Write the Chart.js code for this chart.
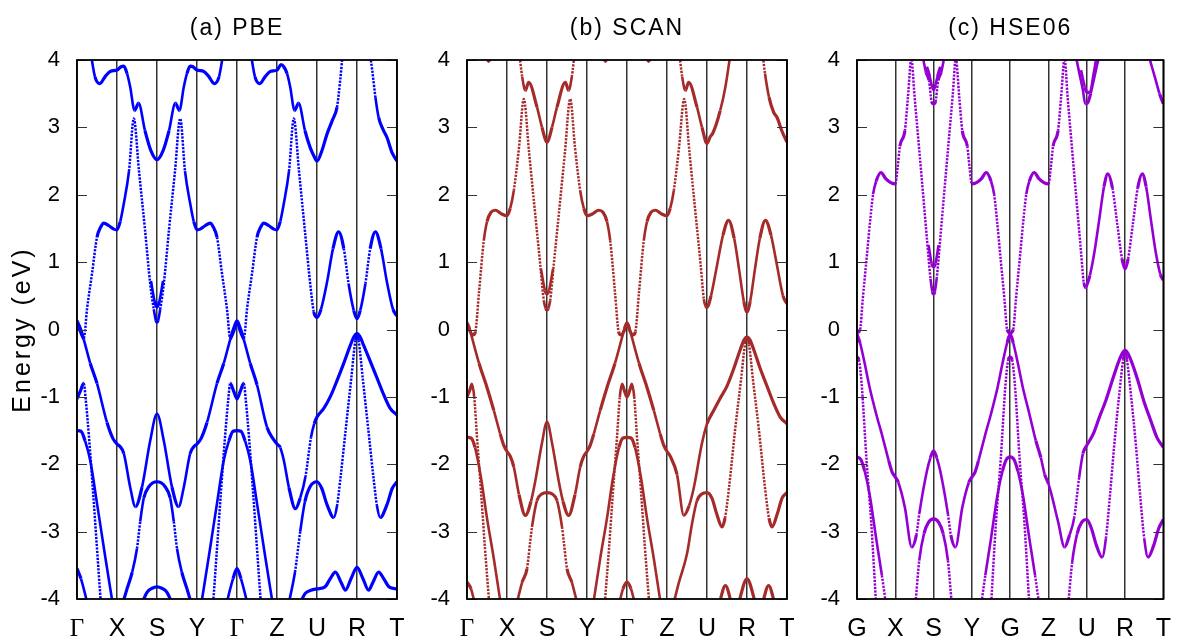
<!DOCTYPE html>
<html>
<head>
<meta charset="utf-8">
<script src="https://cdn.jsdelivr.net/npm/chart.js@4.4.0/dist/chart.umd.min.js"></script>
<style>
  body { margin: 0; background: #fff; }
  #wrap { position: relative; width: 1186px; height: 640px; }
  #wrap canvas { position: absolute; left: 0; top: 0; }
</style>
</head>
<body>
<div id="wrap">
  <canvas id="pbe" width="1186" height="640"></canvas>
  <canvas id="scan" width="1186" height="640"></canvas>
  <canvas id="hse" width="1186" height="640"></canvas>
</div>
<script>
// k-path labels (k = 0..8, one unit per segment)
var kLabelsGamma = ['Γ', 'X', 'S', 'Y', 'Γ', 'Z', 'U', 'R', 'T'];
var kLabelsG = ['G', 'X', 'S', 'Y', 'G', 'Z', 'U', 'R', 'T'];
var energyTicks = [-4, -3, -2, -1, 0, 1, 2, 3, 4];

// ---- PBE bands, [k, E(eV)] ----
var pbeC1 = [[0,0.12],[0.08,-0.02],[0.17,-0.13],[0.25,0.3],[0.38,0.85],[0.5,1.37],[0.6,1.53],[0.67,1.58],[0.8,1.54],[0.92,1.49],[1,1.48],
  [1.08,1.6],[1.17,1.87],[1.3,2.35],[1.42,3.13],[1.55,2.35],[1.7,1.48],[1.83,0.68],[1.92,0.3],[1.97,0.14],[2,0.11],
  [2.03,0.14],[2.08,0.3],[2.17,0.68],[2.3,1.48],[2.45,2.35],[2.58,3.13],[2.7,2.35],[2.83,1.87],[2.92,1.6],[3,1.48],
  [3.08,1.49],[3.2,1.54],[3.33,1.58],[3.4,1.53],[3.5,1.37],[3.62,0.85],[3.75,0.3],[3.83,-0.13],[3.92,-0.02],[4,0.12],
  [4.08,-0.02],[4.17,-0.13],[4.25,0.3],[4.38,0.85],[4.5,1.37],[4.6,1.53],[4.67,1.58],[4.8,1.54],[4.92,1.49],[5,1.48],
  [5.08,1.6],[5.17,1.87],[5.3,2.35],[5.42,3.13],[5.55,2.35],[5.7,1.45],[5.83,0.68],[5.92,0.26],[6,0.18],
  [6.1,0.3],[6.25,0.7],[6.4,1.2],[6.54,1.45],[6.67,1.2],[6.79,0.68],[6.92,0.28],[7,0.16],
  [7.08,0.28],[7.21,0.68],[7.33,1.2],[7.46,1.45],[7.6,1.2],[7.75,0.7],[7.9,0.3],[8,0.2]];
var pbeS1 = [[1.85,0.72],[1.94,0.42],[2,0.33],[2.06,0.42],[2.15,0.72]];
var pbeU1 = [[0.33,4.15],[0.45,3.75],[0.57,3.65],[0.7,3.75],[0.83,3.83],[1,3.85],[1.1,3.9],[1.17,3.91],[1.25,3.8],[1.33,3.6],[1.44,3.25],[1.54,3.36],
  [1.7,2.95],[1.85,2.65],[2,2.52],[2.15,2.65],[2.3,2.95],[2.46,3.36],[2.56,3.25],[2.67,3.6],[2.75,3.8],[2.83,3.91],[2.9,3.9],[3,3.85],
  [3.17,3.83],[3.3,3.75],[3.43,3.65],[3.55,3.75],[3.67,4.15]];
var pbeU2 = [[4.33,4.15],[4.45,3.75],[4.57,3.65],[4.7,3.75],[4.83,3.83],[5,3.85],[5.1,3.93],[5.17,3.9],[5.25,3.8],[5.33,3.6],[5.44,3.25],[5.54,3.36],
  [5.7,2.95],[5.83,2.7],[5.92,2.58],[6,2.5],[6.12,2.65],[6.25,2.9],[6.38,3.1],[6.5,3.3],[6.58,3.7],[6.65,4.15]];
var pbeU3 = [[7.3,4.2],[7.38,3.85],[7.46,3.45],[7.54,3.15],[7.65,2.97],[7.75,2.85],[7.88,2.62],[8,2.5]];
var pbeV1 = [[0,0.13],[0.08,0.02],[0.17,-0.15],[0.33,-0.5],[0.5,-0.8],[0.75,-1.38],[0.9,-1.62],[1,-1.7],
  [1.08,-1.74],[1.17,-1.84],[1.33,-2.34],[1.46,-2.63],[1.625,-2.34],[1.83,-1.65],[2,-1.25],
  [2.17,-1.65],[2.375,-2.34],[2.54,-2.63],[2.67,-2.34],[2.83,-1.84],[2.92,-1.74],[3,-1.7],
  [3.1,-1.62],[3.25,-1.38],[3.5,-0.8],[3.67,-0.5],[3.83,-0.15],[3.92,0.02],[4,0.13],
  [4.08,0.02],[4.17,-0.15],[4.33,-0.5],[4.5,-0.82],[4.75,-1.45],[4.9,-1.62],[5,-1.7],
  [5.08,-1.75],[5.17,-1.94],[5.3,-2.35],[5.46,-2.66],[5.58,-2.5],[5.71,-2.19],[5.85,-1.6],[5.93,-1.4],[6,-1.3],
  [6.17,-1.17],[6.33,-1.0],[6.5,-0.76],[6.67,-0.5],[6.83,-0.24],[6.93,-0.1],[7,-0.06],
  [7.07,-0.1],[7.17,-0.24],[7.33,-0.47],[7.5,-0.72],[7.67,-0.97],[7.83,-1.17],[8,-1.27]];
var pbeV2a = [[0,-1.03],[0.08,-0.92],[0.17,-0.8],[0.22,-1.05],[0.3,-1.6],[0.4,-2.4],[0.5,-3.25],[0.6,-4.1]];
var pbeV2b = [[3.4,-4.1],[3.5,-3.25],[3.6,-2.4],[3.7,-1.6],[3.78,-1.05],[3.83,-0.8],[3.92,-0.92],[4,-1.03],
  [4.08,-0.92],[4.17,-0.8],[4.22,-1.05],[4.3,-1.6],[4.4,-2.4],[4.5,-3.25],[4.6,-4.1]];
var pbeV3a = [[0,-1.5],[0.1,-1.51],[0.2,-1.65],[0.33,-1.94],[0.5,-2.58],[0.7,-3.35],[0.9,-4.1]];
var pbeV3b = [[3.1,-4.1],[3.3,-3.35],[3.5,-2.58],[3.67,-1.94],[3.8,-1.65],[3.9,-1.51],[4,-1.5],
  [4.1,-1.51],[4.2,-1.65],[4.33,-1.94],[4.5,-2.58],[4.7,-3.35],[4.9,-4.1]];
var pbeV4a = [[0,-3.55],[0.1,-3.7],[0.2,-3.92],[0.27,-4.1]];
var pbeV4b = [[3.73,-4.1],[3.8,-3.92],[3.9,-3.7],[4,-3.55],[4.1,-3.7],[4.2,-3.92],[4.27,-4.1]];
var pbeV5a = [[1.15,-4.05],[1.25,-3.85],[1.38,-3.6],[1.5,-3.25],[1.58,-2.85],[1.67,-2.5],[1.8,-2.33],[2,-2.26],
  [2.2,-2.33],[2.33,-2.5],[2.42,-2.85],[2.5,-3.25],[2.62,-3.6],[2.75,-3.85],[2.85,-4.05]];
var pbeV5b = [[5.3,-4.05],[5.45,-3.6],[5.58,-3.0],[5.7,-2.55],[5.83,-2.33],[6,-2.26],[6.12,-2.36],[6.25,-2.6],[6.42,-2.79],[6.5,-2.62],
  [6.58,-2.24],[6.72,-1.47],[6.85,-0.76],[6.96,-0.16],[7,-0.06],[7.04,-0.16],[7.15,-0.76],[7.28,-1.47],[7.42,-2.24],
  [7.5,-2.62],[7.58,-2.79],[7.75,-2.6],[7.88,-2.36],[8,-2.26]];
var pbeV6a = [[1.6,-4.1],[1.75,-3.9],[1.88,-3.84],[2,-3.82],[2.12,-3.84],[2.25,-3.9],[2.4,-4.1]];
var pbeV6b = [[5.55,-4.1],[5.7,-3.92],[5.85,-3.87],[6,-3.85],[6.2,-3.82],[6.33,-3.7],[6.46,-3.6],[6.6,-3.75],[6.71,-3.87],
  [6.85,-3.7],[7,-3.53],[7.15,-3.7],[7.29,-3.87],[7.4,-3.75],[7.54,-3.6],[7.67,-3.7],[7.8,-3.82],[8,-3.85]];

// ---- SCAN bands ----
var scanC1 = [[0,0.09],[0.07,-0.02],[0.15,-0.08],[0.21,-0.03],[0.3,0.55],[0.42,1.32],[0.5,1.6],[0.6,1.74],[0.71,1.77],[0.85,1.72],[1,1.69],
  [1.08,1.8],[1.17,2.06],[1.3,2.7],[1.42,3.42],[1.55,2.64],[1.7,1.74],[1.83,0.97],[1.92,0.43],[1.97,0.31],[2,0.29],
  [2.03,0.31],[2.08,0.43],[2.17,0.97],[2.3,1.74],[2.45,2.64],[2.58,3.42],[2.7,2.7],[2.83,2.06],[2.92,1.8],[3,1.69],
  [3.15,1.72],[3.29,1.77],[3.4,1.74],[3.5,1.6],[3.58,1.32],[3.7,0.55],[3.79,-0.03],[3.85,-0.08],[3.93,-0.02],[4,0.09],
  [4.07,-0.02],[4.15,-0.08],[4.21,-0.03],[4.3,0.55],[4.42,1.32],[4.5,1.6],[4.6,1.74],[4.71,1.77],[4.85,1.72],[5,1.69],
  [5.08,1.8],[5.17,2.06],[5.3,2.7],[5.43,3.42],[5.56,2.64],[5.71,1.74],[5.84,0.97],[5.92,0.45],[5.97,0.34],[6,0.33],
  [6.1,0.5],[6.25,0.95],[6.4,1.4],[6.54,1.62],[6.68,1.35],[6.8,0.9],[6.92,0.42],[7,0.26],
  [7.08,0.42],[7.2,0.9],[7.32,1.35],[7.46,1.62],[7.6,1.4],[7.75,0.95],[7.9,0.5],[8,0.38]];
var scanS1 = [[1.85,0.9],[1.95,0.58],[2,0.53],[2.05,0.58],[2.15,0.9]];
var scanU1 = [[1.3,4.15],[1.38,3.75],[1.46,3.55],[1.54,3.67],[1.75,3.3],[1.875,3.0],[2,2.78],[2.125,3.0],[2.25,3.3],[2.46,3.67],[2.54,3.55],[2.62,3.75],[2.7,4.15]];
var scanU2 = [[5.3,4.15],[5.38,3.75],[5.46,3.55],[5.54,3.67],[5.75,3.3],[5.875,3.0],[6,2.76],[6.08,2.86],[6.15,2.92],[6.33,3.25],[6.46,3.6],[6.6,4.15]];
var scanU3 = [[7.38,4.15],[7.45,3.8],[7.55,3.45],[7.67,3.22],[7.75,3.15],[7.87,2.95],[8,2.78]];
var scanTopA = [[0.44,4.12],[0.54,3.98],[0.64,4.12]];
var scanTopB = [[3.36,4.12],[3.46,3.98],[3.56,4.12]];
var scanTopC = [[4.44,4.12],[4.54,3.98],[4.64,4.12]];
var scanV1 = [[0,0.1],[0.06,0.02],[0.12,-0.11],[0.3,-0.5],[0.5,-0.86],[0.67,-1.2],[0.83,-1.55],[0.92,-1.72],[1,-1.81],
  [1.08,-1.88],[1.17,-2.04],[1.3,-2.45],[1.46,-2.76],[1.6,-2.55],[1.71,-2.24],[1.87,-1.7],[2,-1.37],
  [2.13,-1.7],[2.29,-2.24],[2.4,-2.55],[2.54,-2.76],[2.7,-2.45],[2.83,-2.04],[2.92,-1.88],[3,-1.81],
  [3.08,-1.72],[3.17,-1.55],[3.33,-1.2],[3.5,-0.86],[3.7,-0.5],[3.88,-0.11],[3.94,0.02],[4,0.1],
  [4.06,0.02],[4.12,-0.11],[4.3,-0.5],[4.5,-0.86],[4.67,-1.2],[4.83,-1.55],[4.92,-1.72],[5,-1.81],
  [5.08,-1.88],[5.25,-2.15],[5.42,-2.76],[5.55,-2.62],[5.67,-2.35],[5.87,-1.7],[6,-1.4],
  [6.17,-1.2],[6.33,-1.02],[6.5,-0.84],[6.67,-0.58],[6.83,-0.3],[6.93,-0.15],[7,-0.11],
  [7.07,-0.15],[7.17,-0.3],[7.33,-0.58],[7.5,-0.84],[7.67,-1.1],[7.83,-1.3],[8,-1.4]];
var scanV2a = [[0,-1.0],[0.07,-0.9],[0.125,-0.81],[0.18,-1.0],[0.25,-1.6],[0.35,-2.4],[0.45,-3.25],[0.56,-4.1]];
var scanV2b = [[3.44,-4.1],[3.55,-3.25],[3.65,-2.4],[3.75,-1.6],[3.82,-1.0],[3.875,-0.81],[3.93,-0.9],[4,-1.0],
  [4.07,-0.9],[4.125,-0.81],[4.18,-1.0],[4.25,-1.6],[4.35,-2.4],[4.45,-3.25],[4.56,-4.1]];
var scanV3a = [[0,-1.6],[0.1,-1.61],[0.2,-1.75],[0.35,-2.2],[0.5,-2.8],[0.67,-3.4],[0.85,-4.1]];
var scanV3b = [[3.15,-4.1],[3.33,-3.4],[3.5,-2.8],[3.65,-2.2],[3.8,-1.75],[3.9,-1.61],[4,-1.6],
  [4.1,-1.61],[4.2,-1.75],[4.35,-2.2],[4.5,-2.8],[4.67,-3.4],[4.85,-4.1]];
var scanV4a = [[0,-3.75],[0.1,-3.85],[0.2,-4.08]];
var scanV4b = [[3.8,-4.08],[3.9,-3.85],[4,-3.75],[4.1,-3.85],[4.2,-4.08]];
var scanV5a = [[1.25,-4.05],[1.38,-3.75],[1.5,-3.55],[1.58,-3.15],[1.625,-2.93],[1.75,-2.54],[1.87,-2.44],[2,-2.42],
  [2.13,-2.44],[2.25,-2.54],[2.375,-2.93],[2.42,-3.15],[2.5,-3.55],[2.62,-3.75],[2.75,-4.05]];
var scanV5b = [[5.17,-4.05],[5.3,-3.75],[5.5,-3.33],[5.62,-2.9],[5.75,-2.54],[5.87,-2.44],[6,-2.42],[6.12,-2.5],[6.25,-2.75],[6.375,-2.93],
  [6.45,-2.8],[6.55,-2.35],[6.7,-1.5],[6.85,-0.75],[6.95,-0.22],[7,-0.11],[7.05,-0.22],[7.15,-0.75],[7.3,-1.5],[7.45,-2.35],
  [7.55,-2.8],[7.625,-2.93],[7.75,-2.75],[7.88,-2.5],[8,-2.42]];
var scanV6a = [[6.3,-4.08],[6.46,-3.8],[6.62,-4.08]];
var scanV6b = [[6.78,-4.08],[7,-3.7],[7.22,-4.08]];
var scanV6c = [[7.38,-4.08],[7.54,-3.8],[7.7,-4.08]];

// ---- HSE06 bands ----
var hseC1 = [[0,-0.05],[0.08,0.0],[0.15,0.45],[0.25,1.05],[0.35,1.65],[0.42,2.01],[0.5,2.2],[0.625,2.33],[0.75,2.24],[0.88,2.18],[1,2.16],
  [1.06,2.4],[1.12,2.72],[1.25,2.95],[1.33,3.45],[1.42,4.02],[1.5,3.48],[1.62,2.7],[1.75,1.85],[1.83,1.32],[1.92,0.75],[1.97,0.56],[2,0.53],
  [2.03,0.56],[2.08,0.75],[2.17,1.32],[2.25,1.85],[2.38,2.7],[2.5,3.48],[2.58,4.02],[2.67,3.45],[2.75,2.95],[2.88,2.72],[2.94,2.4],[3,2.16],
  [3.12,2.18],[3.25,2.24],[3.375,2.33],[3.5,2.2],[3.58,2.01],[3.65,1.65],[3.75,1.05],[3.85,0.45],[3.92,0.0],[4,-0.05],
  [4.08,0.0],[4.15,0.45],[4.25,1.05],[4.35,1.65],[4.42,2.01],[4.5,2.2],[4.625,2.33],[4.75,2.24],[4.88,2.18],[5,2.16],
  [5.06,2.4],[5.12,2.72],[5.25,2.95],[5.33,3.45],[5.42,4.02],[5.5,3.45],[5.62,2.65],[5.75,1.8],[5.85,1.15],[5.92,0.7],[5.96,0.62],[6,0.66],
  [6.08,0.8],[6.2,1.15],[6.33,1.65],[6.45,2.12],[6.55,2.31],[6.67,2.1],[6.8,1.55],[6.92,1.05],[7,0.9],
  [7.08,1.05],[7.2,1.55],[7.33,2.1],[7.45,2.31],[7.55,2.12],[7.67,1.65],[7.8,1.15],[7.92,0.82],[8,0.73]];
var hseS1 = [[1.87,1.25],[1.95,0.98],[2,0.93],[2.05,0.98],[2.13,1.25]];
var hseU1a = [[1.7,4.1],[1.8,3.82],[1.88,3.7],[1.95,3.38],[2,3.35],[2.05,3.38],[2.12,3.7],[2.2,3.82],[2.3,4.1]];
var hseU1b = [[1.82,3.9],[1.9,3.75],[2,3.55],[2.1,3.75],[2.18,3.9]];
var hseU2a = [[5.7,4.1],[5.8,3.82],[5.9,3.55],[5.96,3.35],[6.02,3.36],[6.1,3.5],[6.2,3.75],[6.3,4.0],[6.35,4.1]];
var hseU2b = [[5.85,3.85],[5.95,3.6],[6,3.52],[6.08,3.52],[6.18,3.8],[6.27,4.1]];
var hseU3 = [[7.6,4.1],[7.7,3.9],[7.8,3.7],[7.9,3.5],[8,3.35]];
var hseV1 = [[0,-0.07],[0.08,-0.2],[0.2,-0.5],[0.33,-0.86],[0.5,-1.25],[0.67,-1.6],[0.83,-1.95],[0.92,-2.12],[1,-2.19],
  [1.08,-2.27],[1.25,-2.64],[1.43,-3.23],[1.55,-3.05],[1.625,-2.74],[1.83,-2.09],[1.92,-1.9],[2,-1.8],
  [2.08,-1.9],[2.17,-2.09],[2.375,-2.74],[2.45,-3.05],[2.57,-3.23],[2.75,-2.64],[2.92,-2.27],[3,-2.19],
  [3.08,-2.12],[3.17,-1.95],[3.33,-1.6],[3.5,-1.25],[3.67,-0.86],[3.8,-0.5],[3.92,-0.2],[4,-0.07],
  [4.08,-0.2],[4.2,-0.5],[4.33,-0.86],[4.5,-1.25],[4.67,-1.65],[4.8,-1.9],[4.9,-2.15],[5,-2.29],
  [5.08,-2.45],[5.25,-2.85],[5.42,-3.23],[5.55,-3.05],[5.67,-2.8],[5.8,-2.2],[5.9,-1.84],[6,-1.72],
  [6.17,-1.55],[6.33,-1.3],[6.5,-1.05],[6.67,-0.75],[6.83,-0.48],[6.93,-0.35],[7,-0.31],
  [7.07,-0.35],[7.17,-0.48],[7.33,-0.75],[7.5,-1.08],[7.67,-1.35],[7.83,-1.6],[8,-1.75]];
var hseV2a = [[0,-0.41],[0.05,-0.45],[0.12,-0.8],[0.25,-1.95],[0.37,-2.85],[0.5,-4.1]];
var hseV2b = [[3.5,-4.1],[3.63,-2.85],[3.75,-1.95],[3.88,-0.8],[3.95,-0.45],[4,-0.41],[4.05,-0.45],[4.12,-0.8],[4.25,-1.95],[4.37,-2.85],[4.5,-4.1]];
var hseV3a = [[0,-1.89],[0.1,-1.93],[0.2,-2.1],[0.33,-2.45],[0.5,-3.1],[0.65,-3.65],[0.76,-4.1]];
var hseV3b = [[3.24,-4.1],[3.35,-3.65],[3.5,-3.1],[3.67,-2.45],[3.8,-2.1],[3.9,-1.93],[4,-1.89],
  [4.1,-1.93],[4.2,-2.1],[4.33,-2.45],[4.5,-3.1],[4.65,-3.65],[4.76,-4.1]];
var hseV5a = [[1.53,-4.05],[1.625,-3.43],[1.75,-3.03],[1.87,-2.86],[2,-2.81],[2.13,-2.86],[2.25,-3.03],[2.375,-3.43],[2.47,-4.05]];
var hseV5b = [[5.52,-4.05],[5.62,-3.45],[5.75,-3.03],[5.87,-2.86],[6,-2.82],[6.12,-2.95],[6.25,-3.2],[6.4,-3.38],[6.5,-3.1],
  [6.6,-2.5],[6.72,-1.7],[6.85,-0.95],[6.95,-0.45],[7,-0.31],[7.05,-0.45],[7.15,-0.95],[7.28,-1.7],[7.4,-2.5],
  [7.5,-3.1],[7.6,-3.38],[7.75,-3.2],[7.88,-2.95],[8,-2.82]];

Chart.defaults.font.family = '"Liberation Sans", Arial, sans-serif';
Chart.defaults.color = '#000';

// pixel slope of a drawn segment; steep parts look dotted
function steepness(c) {
  var dx = Math.abs(c.p1.x - c.p0.x) || 0.01;
  return Math.abs(c.p1.y - c.p0.y) / dx;
}

function bandDataset(points, color) {
  return {
    data: points.map(function(p) { return {x: p[0], y: p[1]}; }),
    borderColor: color,
    borderWidth: 3.2,
    pointRadius: 0,
    fill: false,
    cubicInterpolationMode: 'monotone',
    clip: 0,
    segment: {
      borderWidth: function(c) { var s = steepness(c); return s > 7 ? 2.5 : (s > 3.5 ? 2.6 : 3.2); },
      borderDash: function(c) { return steepness(c) > 7 ? [2.2, 1.3] : undefined; }
    }
  };
}

// frame, inward energy ticks, panel title and energy label
var panelDecor = {
  id: 'panelDecor',
  afterDraw: function(chart, args, opts) {
    var ctx = chart.ctx, a = chart.chartArea, y = chart.scales.y;
    ctx.save();
    ctx.strokeStyle = '#333';
    ctx.lineWidth = 1.2;
    y.ticks.forEach(function(t) {
      var py = Math.round(y.getPixelForValue(t.value)) + 0.5;
      ctx.beginPath();
      ctx.moveTo(a.left, py); ctx.lineTo(a.left + 10, py);
      ctx.moveTo(a.right - 10, py); ctx.lineTo(a.right, py);
      ctx.stroke();
    });
    ctx.strokeStyle = '#000';
    ctx.lineWidth = 1.8;
    ctx.strokeRect(a.left, a.top, a.right - a.left, a.bottom - a.top);

    ctx.fillStyle = '#000';
    ctx.font = '23px "Liberation Sans", Arial, sans-serif';
    ctx.letterSpacing = '2px';
    ctx.textAlign = 'center';
    ctx.textBaseline = 'alphabetic';
    ctx.fillText(opts.title, (a.left + a.right) / 2, 35);
    if (opts.yLabel) {
      ctx.font = '25px "Liberation Sans", Arial, sans-serif';
      ctx.letterSpacing = '3px';
      ctx.translate(30, (a.top + a.bottom) / 2);
      ctx.rotate(-Math.PI / 2);
      ctx.fillText(opts.yLabel, 0, 0);
    }
    ctx.restore();
  }
};

function makePanel(id, bands, color, labels, title, yLabel, left) {
  var width = 320;
  return new Chart(document.getElementById(id), {
    type: 'line',
    data: { datasets: bands.map(function(b) { return bandDataset(b, color); }) },
    options: {
      responsive: false,
      animation: false,
      events: [],
      devicePixelRatio: 1,
      layout: { padding: { left: left - 60, right: 1186 - left - width, top: 60, bottom: 0 } },
      plugins: {
        legend: { display: false },
        tooltip: { enabled: false },
        panelDecor: { title: title, yLabel: yLabel }
      },
      scales: {
        x: {
          type: 'linear', min: 0, max: 8,
          ticks: {
            stepSize: 1, autoSkip: false, maxRotation: 0, padding: 15, color: '#000',
            callback: function(v) { return labels[v]; },
            font: function(c) {
              var t = labels[c.index];
              return { size: 25, family: t === 'Γ' ? '"Liberation Serif", "Times New Roman", serif' : '"Liberation Sans", Arial, sans-serif' };
            }
          },
          grid: { color: '#333', lineWidth: 1.5, drawTicks: false },
          border: { display: false },
          afterFit: function(s) { s.height = 41; }
        },
        y: {
          min: -4, max: 4,
          afterBuildTicks: function(s) { s.ticks = energyTicks.map(function(v) { return {value: v}; }); },
          ticks: { padding: 17, color: '#000', font: { size: 22 } },
          grid: { display: false, drawTicks: false },
          border: { display: false },
          afterFit: function(s) { s.width = 60; }
        }
      }
    },
    plugins: [panelDecor]
  });
}

makePanel('pbe',
  [pbeV6a, pbeV6b, pbeV4a, pbeV4b, pbeV5a, pbeV5b, pbeV3a, pbeV3b, pbeV2a, pbeV2b, pbeV1, pbeS1, pbeC1, pbeU1, pbeU2, pbeU3],
  '#0000ff', kLabelsGamma, '(a) PBE', 'Energy (eV)', 77);
makePanel('scan',
  [scanV6a, scanV6b, scanV6c, scanV4a, scanV4b, scanV5a, scanV5b, scanV3a, scanV3b, scanV2a, scanV2b, scanV1, scanS1, scanC1,
   scanU1, scanU2, scanU3, scanTopA, scanTopB, scanTopC],
  '#a52a2a', kLabelsGamma, '(b) SCAN', null, 467);
makePanel('hse',
  [hseV5a, hseV5b, hseV3a, hseV3b, hseV2a, hseV2b, hseV1, hseS1, hseC1, hseU1a, hseU1b, hseU2a, hseU2b, hseU3],
  '#9400d3', kLabelsG, '(c) HSE06', null, 857);
</script>
</body>
</html>
